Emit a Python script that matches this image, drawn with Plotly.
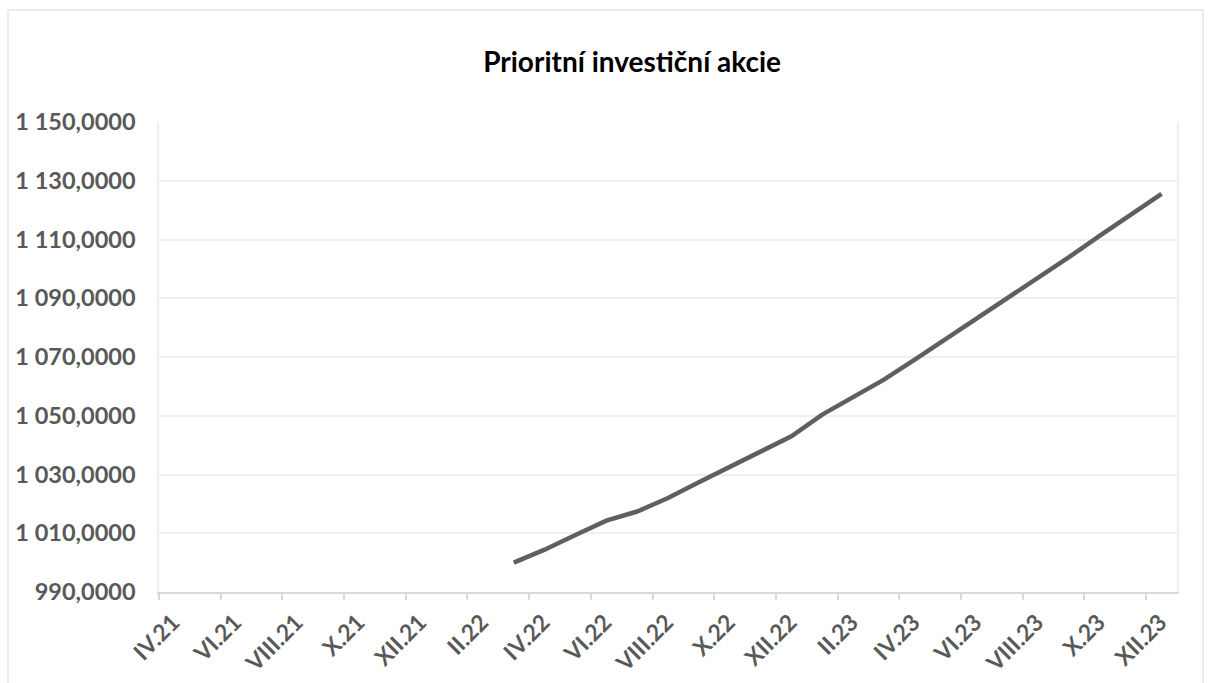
import plotly.graph_objects as go

# Monthly categories on the x axis (IV.21 .. XII.23)
months = [
    "IV.21", "V.21", "VI.21", "VII.21", "VIII.21", "IX.21", "X.21", "XI.21", "XII.21",
    "I.22", "II.22", "III.22", "IV.22", "V.22", "VI.22", "VII.22", "VIII.22", "IX.22",
    "X.22", "XI.22", "XII.22",
    "I.23", "II.23", "III.23", "IV.23", "V.23", "VI.23", "VII.23", "VIII.23", "IX.23",
    "X.23", "XI.23", "XII.23",
]
tick_labels = [
    "IV.21", "VI.21", "VIII.21", "X.21", "XII.21", "II.22", "IV.22", "VI.22", "VIII.22",
    "X.22", "XII.22", "II.23", "IV.23", "VI.23", "VIII.23", "X.23", "XII.23",
]

# Series (starts III.22)
series_months = months[11:]
values = [
    1000.0, 1004.4, 1009.4, 1014.3, 1017.4, 1022.0, 1027.4, 1032.6, 1037.5, 1043.0,
    1050.4, 1056.5, 1062.3, 1069.1, 1076.1, 1082.9, 1089.7, 1096.9, 1104.0, 1111.3,
    1118.4, 1125.5,
]

y_ticks = [990, 1010, 1030, 1050, 1070, 1090, 1110, 1130, 1150]
y_tick_labels = ["990,0000", "1 010,0000", "1 030,0000", "1 050,0000", "1 070,0000",
                 "1 090,0000", "1 110,0000", "1 130,0000", "1 150,0000"]

title_text = "Prioritní investiční akcie"

x_idx = [months.index(m) for m in series_months]
tick_pos = [months.index(t) - 0.5 for t in tick_labels]

FONT = "Lato"
GRAY = "#595959"

fig = go.Figure()
fig.add_trace(go.Scatter(
    x=x_idx, y=values, mode="lines",
    line=dict(color="#5F5F5F", width=4.5),
    hoverinfo="skip", showlegend=False,
))

fig.update_layout(
    width=1211, height=683,
    margin=dict(l=159, r=34, t=122, b=91),
    paper_bgcolor="white", plot_bgcolor="white",
    title=dict(text="<b>" + title_text + "</b>", x=0.522, xanchor="center",
               y=0.909, yanchor="middle",
               font=dict(family=FONT, size=28, color="#000000")),
    font=dict(family=FONT),
    shapes=[dict(type="rect", xref="paper", yref="paper",
                 x0=-0.1483, x1=1.0255, y0=-0.3, y1=1.2383,
                 line=dict(color="#D9D9D9", width=1), layer="below")],
)

fig.update_xaxes(
    automargin=False,
    range=[-0.5, len(months) - 0.5],
    tickmode="array", tickvals=tick_pos, ticktext=tick_labels,
    tickangle=-45, ticklabelshift=14,
    tickfont=dict(family=FONT, size=23, color=GRAY, weight="bold"),
    ticks="outside", ticklen=6, tickcolor="#D9D9D9", tickwidth=1.5,
    showgrid=False, zeroline=False,
    showline=True, linecolor="#D9D9D9", linewidth=1.5,
)

fig.update_yaxes(
    automargin=False,
    range=[990, 1150],
    tickmode="array", tickvals=y_ticks, ticktext=y_tick_labels,
    tickfont=dict(family=FONT, size=23.5, color=GRAY, weight="bold"),
    ticklabelstandoff=17,
    showgrid=True, gridcolor="#EFEFEF", gridwidth=1.5,
    zeroline=False,
    showline=True, mirror=True, linecolor="#EFEFEF", linewidth=1.5,
)

fig.write_html("out.html", config={"displayModeBar": False},
               post_script="document.body.style.margin='0';")
